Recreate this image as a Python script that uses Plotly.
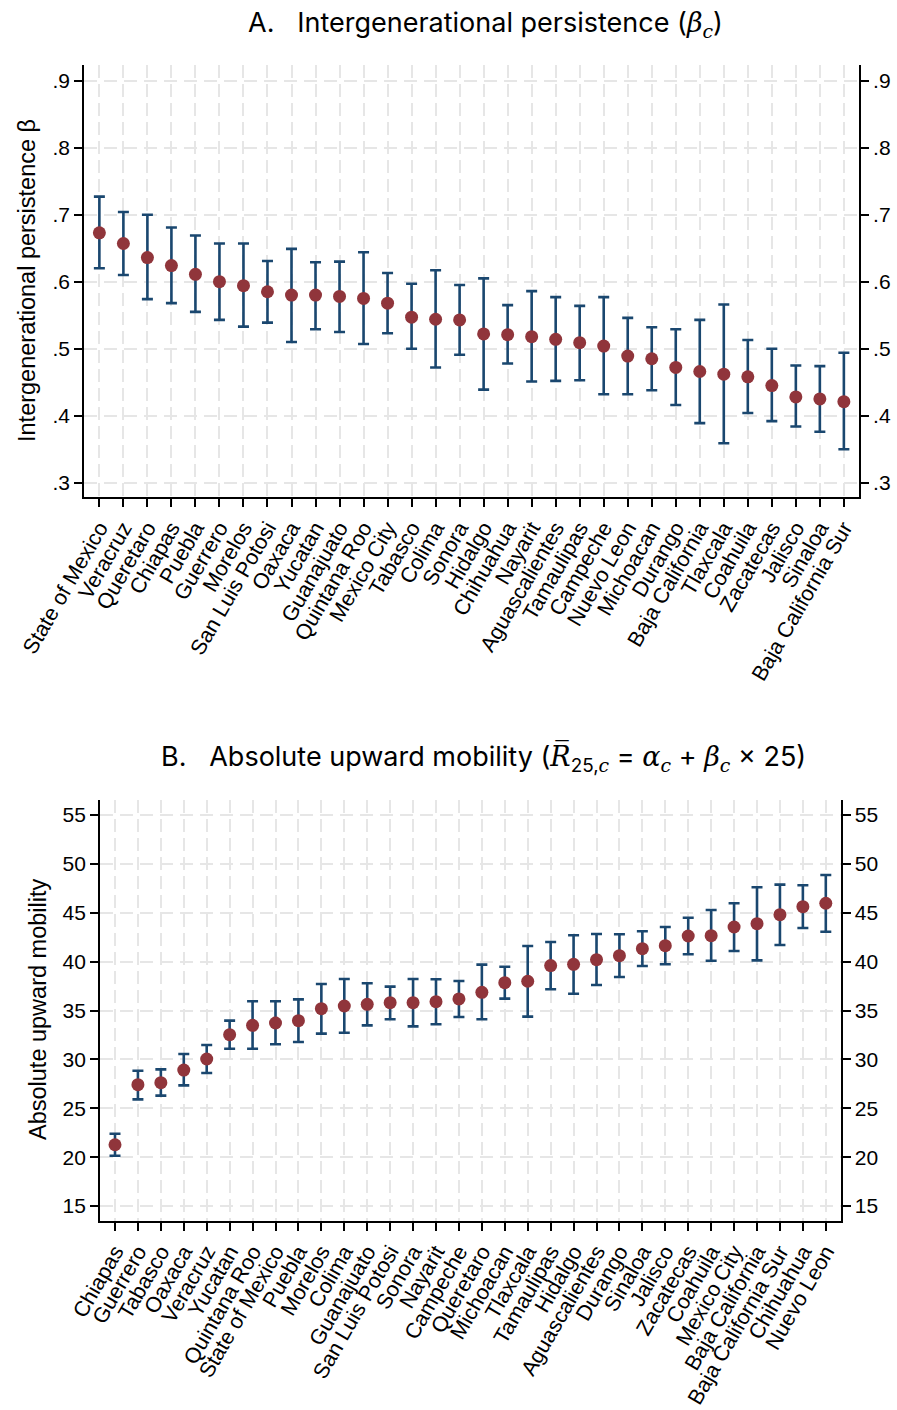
import plotly.graph_objects as go

# Panel A: intergenerational persistence by state (point estimate and 95% CI)
states_a = [
    "State of Mexico", "Veracruz", "Queretaro", "Chiapas", "Puebla", "Guerrero",
    "Morelos", "San Luis Potosi", "Oaxaca", "Yucatan", "Guanajuato", "Quintana Roo",
    "Mexico City", "Tabasco", "Colima", "Sonora", "Hidalgo", "Chihuahua", "Nayarit",
    "Aguascalientes", "Tamaulipas", "Campeche", "Nuevo Leon", "Michoacan", "Durango",
    "Baja California", "Tlaxcala", "Coahuila", "Zacatecas", "Jalisco", "Sinaloa",
    "Baja California Sur",
]
beta = [0.673, 0.657, 0.636, 0.624, 0.611, 0.600, 0.594, 0.585, 0.580, 0.580, 0.578,
        0.575, 0.568, 0.547, 0.544, 0.543, 0.522, 0.521, 0.518, 0.514, 0.509, 0.504,
        0.489, 0.485, 0.472, 0.466, 0.462, 0.458, 0.445, 0.428, 0.425, 0.421]
beta_lo = [0.620, 0.610, 0.574, 0.568, 0.555, 0.543, 0.533, 0.539, 0.510, 0.529, 0.525,
           0.507, 0.523, 0.500, 0.472, 0.491, 0.439, 0.478, 0.451, 0.452, 0.453, 0.432,
           0.432, 0.438, 0.416, 0.389, 0.359, 0.404, 0.392, 0.384, 0.376, 0.350]
beta_hi = [0.727, 0.704, 0.700, 0.681, 0.669, 0.657, 0.657, 0.631, 0.649, 0.629, 0.630,
           0.644, 0.613, 0.597, 0.617, 0.595, 0.605, 0.565, 0.586, 0.577, 0.564, 0.577,
           0.546, 0.532, 0.529, 0.543, 0.566, 0.513, 0.500, 0.475, 0.474, 0.494]

# Panel B: absolute upward mobility by state
states_b = [
    "Chiapas", "Guerrero", "Tabasco", "Oaxaca", "Veracruz", "Yucatan", "Quintana Roo",
    "State of Mexico", "Puebla", "Morelos", "Colima", "Guanajuato", "San Luis Potosi",
    "Sonora", "Nayarit", "Campeche", "Queretaro", "Michoacan", "Tlaxcala", "Tamaulipas",
    "Hidalgo", "Aguascalientes", "Durango", "Sinaloa", "Jalisco", "Zacatecas", "Coahuila",
    "Mexico City", "Baja California", "Baja California Sur", "Chihuahua", "Nuevo Leon",
]
mob = [21.27, 27.41, 27.62, 28.91, 30.04, 32.53, 33.48, 33.72, 33.96, 35.19, 35.46,
       35.63, 35.80, 35.80, 35.90, 36.18, 36.86, 37.85, 37.99, 39.59, 39.72, 40.20,
       40.61, 41.32, 41.63, 42.62, 42.65, 43.54, 43.88, 44.80, 45.62, 45.97]
mob_lo = [20.15, 25.91, 26.29, 27.34, 28.61, 31.09, 31.09, 31.54, 31.78, 32.63, 32.73,
          33.48, 34.10, 33.38, 33.59, 34.34, 34.10, 36.21, 34.37, 37.17, 36.72, 37.61,
          38.43, 39.55, 39.73, 40.75, 40.09, 41.09, 40.13, 41.70, 43.44, 43.06]
mob_hi = [22.40, 28.84, 28.98, 30.55, 31.47, 33.96, 35.94, 35.94, 36.14, 37.71, 38.22,
          37.78, 37.44, 38.22, 38.19, 38.02, 39.69, 39.48, 41.60, 42.01, 42.69, 42.83,
          42.80, 43.10, 43.54, 44.49, 45.28, 45.97, 47.60, 47.87, 47.81, 48.86]

ticks_a = [0.3, 0.4, 0.5, 0.6, 0.7, 0.8, 0.9]
ticklabels_a = [".3", ".4", ".5", ".6", ".7", ".8", ".9"]
ticks_b = [15, 20, 25, 30, 35, 40, 45, 50, 55]

W, H = 897, 1410
MAROON = "#90353B"
NAVY = "#1A476F"
GRID = "#E6E6E6"
TXT = "Liberation Sans, Arial, sans-serif"
TITLE_FONT = "Inter, sans-serif"


def px_x(p):
    return p / W


def px_y(p):
    return 1 - p / H


def m(s):
    """Math-style italic serif fragment for the panel titles."""
    return f"<span style=\"font-family:'DejaVu Serif'\"><i>{s}</i></span>"


def ci_trace(x, y, lo, hi, xa, ya):
    return go.Scatter(
        x=x, y=y, mode="markers", xaxis=xa, yaxis=ya, showlegend=False,
        marker=dict(color=MAROON, size=13, line=dict(width=0)),
        error_y=dict(type="data", symmetric=False,
                     array=[h - v for h, v in zip(hi, y)],
                     arrayminus=[v - l for v, l in zip(y, lo)],
                     color=NAVY, thickness=2.6, width=5.5),
    )


fig = go.Figure()
fig.add_trace(ci_trace(states_a, beta, beta_lo, beta_hi, "x", "y"))
# invisible copy so the right-hand mirror axis is drawn
fig.add_trace(go.Scatter(x=states_a, y=beta, xaxis="x", yaxis="y2", mode="markers",
                         marker=dict(opacity=0), showlegend=False, hoverinfo="skip"))
fig.add_trace(ci_trace(states_b, mob, mob_lo, mob_hi, "x2", "y3"))
fig.add_trace(go.Scatter(x=states_b, y=mob, xaxis="x2", yaxis="y4", mode="markers",
                         marker=dict(opacity=0), showlegend=False, hoverinfo="skip"))

range_a = [0.2787, 0.9234]
range_b = [13.5, 56.53]
dom_xa = [px_x(84), px_x(859)]
dom_ya = [px_y(497), px_y(65)]
dom_xb = [px_x(100), px_x(840.7)]
dom_yb = [px_y(1220.7), px_y(800)]

xcommon = dict(type="category", showline=True, linecolor="black", linewidth=1.8,
               ticks="outside", ticklen=8, tickwidth=1.5, tickcolor="black",
               tickangle=-60, tickfont=dict(family=TXT, size=21.5, color="black"),
               showgrid=True, gridcolor=GRID, gridwidth=2, griddash="13px,6px",
               zeroline=False, fixedrange=True, automargin=False, tickmode="array")
ycommon = dict(showline=True, linecolor="black", linewidth=1.8, ticks="outside",
               ticklen=8, tickwidth=1.5, tickcolor="black",
               tickfont=dict(family=TXT, size=21, color="black"),
               zeroline=False, fixedrange=True, automargin=False)

fig.update_layout(
    width=W, height=H, margin=dict(l=0, r=0, t=0, b=0, autoexpand=False),
    paper_bgcolor="white", plot_bgcolor="white", showlegend=False,
    xaxis=dict(xcommon, domain=dom_xa, anchor="y", range=[-0.64, 31.63],
               tickvals=states_a, ticktext=states_a),
    yaxis=dict(ycommon, domain=dom_ya, anchor="x", range=range_a,
               tickvals=ticks_a, ticktext=ticklabels_a,
               showgrid=True, gridcolor=GRID, gridwidth=2, griddash="13px,7px"),
    yaxis2=dict(ycommon, overlaying="y", side="right", anchor="x", range=range_a,
                tickvals=ticks_a, ticktext=ticklabels_a, showgrid=False),
    xaxis2=dict(xcommon, domain=dom_xb, anchor="y3", range=[-0.654, 31.65],
                tickvals=states_b, ticktext=states_b),
    yaxis3=dict(ycommon, domain=dom_yb, anchor="x2", range=range_b,
                tickvals=ticks_b, showgrid=True, gridcolor=GRID, gridwidth=2,
                griddash="13px,7px"),
    yaxis4=dict(ycommon, overlaying="y3", side="right", anchor="x2", range=range_b,
                tickvals=ticks_b, showgrid=False),
)

title_a = f"A.   Intergenerational persistence ({m('β')}<sub>{m('c')}</sub>)"
title_b = (f"B.   Absolute upward mobility ({m('R̅')}<sub>25,{m('c')}</sub> = "
           f"{m('α')}<sub>{m('c')}</sub> + {m('β')}<sub>{m('c')}</sub> × 25)")

ann = [
    dict(text=title_a, x=px_x(485), y=px_y(24),
         font=dict(family=TITLE_FONT, size=27, color="black")),
    dict(text=title_b, x=px_x(483), y=px_y(758),
         font=dict(family=TITLE_FONT, size=27, color="black")),
    dict(text="Intergenerational persistence β", textangle=-90,
         x=px_x(27), y=px_y(281), font=dict(family=TXT, size=23.5, color="black")),
    dict(text="Absolute upward mobility", textangle=-90,
         x=px_x(38), y=px_y(1010), font=dict(family=TXT, size=23.5, color="black")),
]
for a in ann:
    a.update(xref="paper", yref="paper", showarrow=False, xanchor="center",
             yanchor="middle")
fig.update_layout(annotations=ann)

fig.write_html("out.html")
